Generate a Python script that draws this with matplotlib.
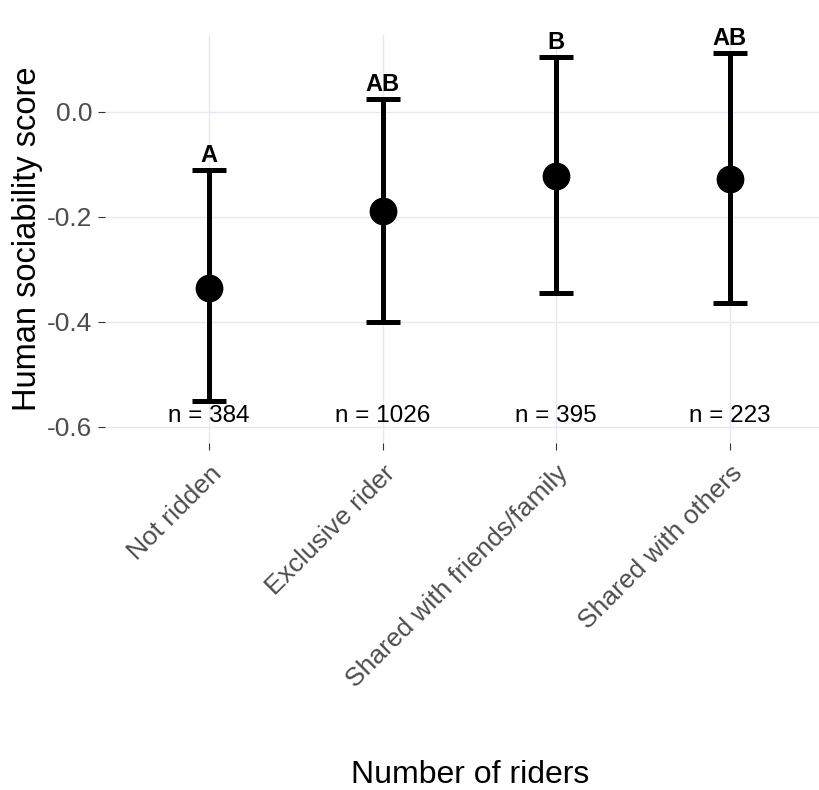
import matplotlib
matplotlib.use("Agg")
import matplotlib.pyplot as plt

categories = ["Not ridden", "Exclusive rider", "Shared with friends/family", "Shared with others"]
means = [-0.336, -0.190, -0.122, -0.129]
lower = [-0.551, -0.400, -0.345, -0.364]
upper = [-0.111, 0.024, 0.104, 0.111]
letters = ["A", "AB", "B", "AB"]
counts = [384, 1026, 395, 223]
yticks = [0.0, -0.2, -0.4, -0.6]

plt.rcParams['font.family'] = ['Liberation Sans', 'DejaVu Sans']

fig = plt.figure(figsize=(8.2, 7.9), dpi=100)
ax = fig.add_axes([0.128, 0.439, 0.872, 0.517])

x = list(range(1, len(categories) + 1))
yerr = [[m - l for m, l in zip(means, lower)], [u - m for m, u in zip(means, upper)]]
ax.errorbar(x, means, yerr=yerr, fmt='o', color='black', markersize=19, elinewidth=3.6,
            capsize=12.5, capthick=3.6, zorder=3)

for xi, u, lab in zip(x, upper, letters):
    ax.annotate(lab, (xi, u), xytext=(0, 2), textcoords='offset points', ha='center', va='bottom',
                fontsize=17, fontweight='bold', color='black')
for xi, n in zip(x, counts):
    ax.text(xi, -0.6, f"n = {n}", ha='center', va='bottom', fontsize=17.5, color='black')

ax.set_xlim(0.4, 4.52)
ax.set_ylim(-0.631, 0.146)
ax.set_xticks(x)
ax.set_xticklabels(categories, rotation=45, ha='right', rotation_mode='anchor')
ax.set_yticks(yticks)
ax.set_yticklabels([f"{v:.1f}" for v in yticks])
ax.tick_params(axis='both', colors='#333333', labelcolor='#4d4d4d', labelsize=19, length=5, width=0.8)
ax.tick_params(axis='x', pad=8)
ax.tick_params(axis='y', pad=4)
ax.grid(True, color='#e6e6f5', linewidth=1.0)
ax.set_axisbelow(True)
for s in ax.spines.values():
    s.set_visible(False)

ax.set_ylabel("Human sociability score", fontsize=23.5, color='black', labelpad=3)
fig.text(0.573, 0.0, "Number of riders", ha='center', va='bottom', fontsize=23, color='black')

fig.savefig("out.png", dpi=100)
